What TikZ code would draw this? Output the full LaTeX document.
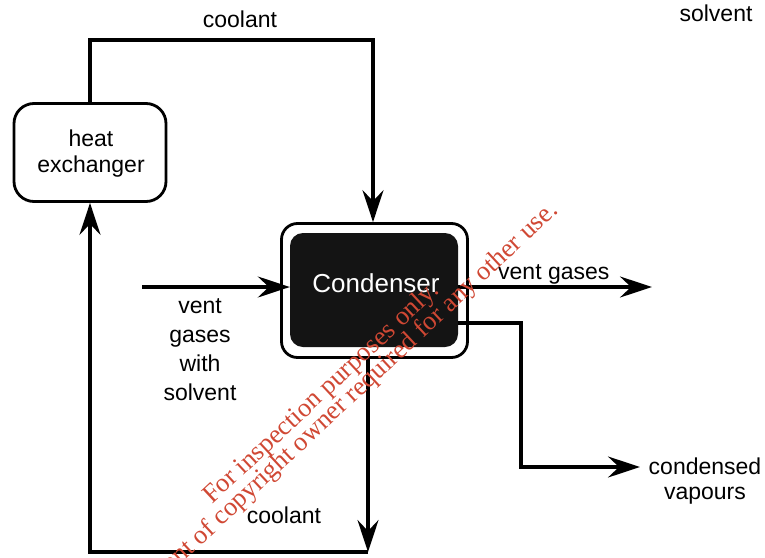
\documentclass[tikz,border=0pt]{standalone}
\usepackage{fontspec}
\setmainfont{Liberation Sans}
\newfontfamily\wmfont{Liberation Serif}
\usetikzlibrary{arrows.meta}
\definecolor{wmred}{RGB}{208,72,52}
\begin{document}
\begin{tikzpicture}[x=1pt,y=-1pt,
  pipe/.style={line width=3.2pt},
  flow/.style={pipe, -{Stealth[length=32pt,width=21pt,inset=11pt]}},
  lbl/.style={font=\fontsize{23}{26}\selectfont, inner sep=0pt, align=center},
  wm/.style={font=\wmfont\fontsize{26.5}{28}\selectfont, text=wmred, inner sep=0pt, rotate=43}]
\useasboundingbox (0,0) rectangle (765,557);
\clip (0,0) rectangle (765,557);

% boxes
\node[draw, line width=2.8pt, rounded corners=20pt, minimum width=152pt, minimum height=98pt, inner sep=0pt] (hx) at (90,152.5) {};
\node[lbl, anchor=base] (hxt) at (91,172) {heat\\exchanger};

\node[draw, line width=2.8pt, rounded corners=16pt, minimum width=186pt, minimum height=134pt, inner sep=0pt, fill=white] (cout) at (374.5,290.5) {};
\node[fill=black!92, rounded corners=13pt, minimum width=168pt, minimum height=114pt, inner sep=0pt] (cin) at (374,290) {};
\node[anchor=base, inner sep=0pt, text=white, font=\fontsize{26}{30}\selectfont] (ct) at (376,292) {Condenser};

% free ends
\coordinate (tc) at (373,40);
\coordinate (vin) at (142,287);
\coordinate (vout) at (652,287);
\coordinate (cvc) at (521,323);
\coordinate (cv) at (640,467);
\coordinate (bc) at (368,552);

% connectors
\draw[flow] (hx.north) |- (tc) -- (tc |- cout.north);
\draw[flow] (vin) -- (vin -| cin.west);
\draw[flow] (vout -| cin.east) -- (vout);
\draw[flow] (cvc -| cin.east) -- (cvc) |- (cv);
\draw[flow] (bc |- cout.south) -- (bc);
\draw[flow] (bc) -| (hx.south);

% labels
\node[lbl, anchor=base] (l1) at (240,27) {coolant};
\node[lbl, anchor=base] (l2) at (716,21) {solvent};
\node[lbl, anchor=base, font=\fontsize{23}{29}\selectfont] (l3) at (200,400) {vent\\gases\\with\\solvent};
\node[lbl, anchor=base west] (l4) at (498,279) {vent gases};
\node[lbl, anchor=base, font=\fontsize{23}{25}\selectfont] (l5) at (705,499) {condensed\\vapours};
\node[lbl, anchor=base] (l6) at (284,523) {coolant};

% watermark
\node[wm, anchor=base west] (w1) at (212,505) {For inspection purposes only.};
\node[wm, anchor=base east] (w2) at (559,212) {Consent of copyright owner required for any other use.};
\end{tikzpicture}
\end{document}
